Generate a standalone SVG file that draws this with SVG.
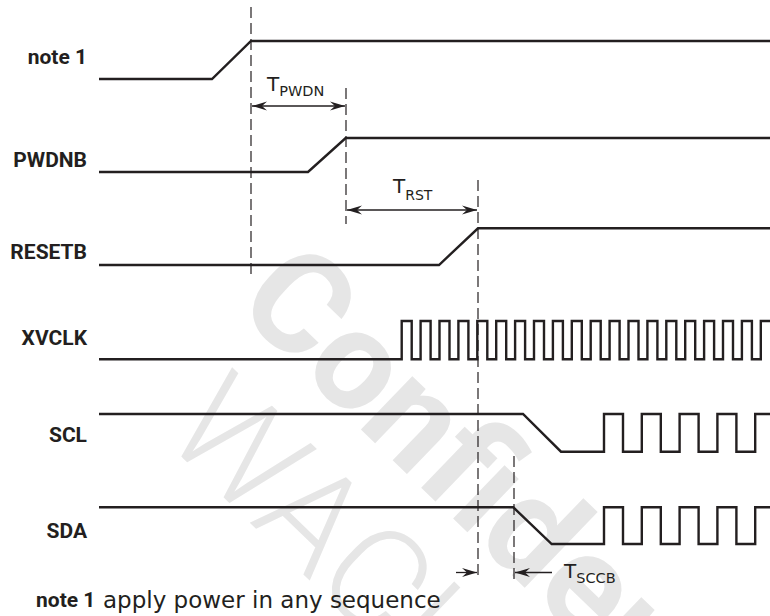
<svg xmlns="http://www.w3.org/2000/svg" width="770" height="616" viewBox="0 0 770 616">
<style>
.wm{fill:#e6e6e6;font-family:Roboto,"Liberation Sans",sans-serif;font-size:140px}
.wave{fill:none;stroke:#231f20;stroke-width:2.4;stroke-linejoin:miter}
.dash{fill:none;stroke:#231f20;stroke-width:1.2;stroke-dasharray:11 5}
.arr{fill:none;stroke:#231f20;stroke-width:1.3}
.lbl{font-family:Roboto,"Liberation Sans",sans-serif;font-weight:bold;font-size:21px;fill:#231f20;text-anchor:end}
.t{font-family:"DejaVu Sans",sans-serif;fill:#231f20}
</style>
<defs>
<marker id="ah" viewBox="-16 -6 17 12" refX="0" refY="0" markerWidth="17" markerHeight="12" markerUnits="userSpaceOnUse" orient="auto-start-reverse">
<path d="M0,0 L-15,-4.5 L-10,0 L-15,4.5 Z" fill="#231f20"/>
</marker>
</defs>
<rect width="770" height="616" fill="#ffffff"/>
<g id="watermark">
<text class="wm" font-weight="bold" transform="translate(233,306) rotate(44)">Confidential</text>
<text class="wm" font-weight="300" transform="translate(160,436) rotate(44)">WACL</text>
</g>
<g id="connectors">
<line class="dash" x1="251" y1="7" x2="251" y2="275"/>
<line class="dash" x1="346" y1="88" x2="346" y2="224"/>
<line class="dash" x1="478" y1="180" x2="478" y2="580"/>
<line class="dash" x1="514" y1="456" x2="514" y2="580"/>
<line class="arr" x1="252" y1="106" x2="345" y2="106" marker-start="url(#ah)" marker-end="url(#ah)"/>
<line class="arr" x1="347" y1="210" x2="477" y2="210" marker-start="url(#ah)" marker-end="url(#ah)"/>
<line class="arr" x1="456" y1="572.5" x2="477" y2="572.5" marker-end="url(#ah)"/>
<line class="arr" x1="552" y1="572.5" x2="515" y2="572.5" marker-end="url(#ah)"/>
</g>
<g id="note1">
<text class="lbl" x="87" y="64">note 1</text>
<path class="wave" d="M99,79 H212 L251,41 H772"/>
</g>
<g id="PWDNB">
<text class="lbl" x="87" y="167">PWDNB</text>
<path class="wave" d="M99,172 H308 L345.7,138 H772"/>
</g>
<g id="RESETB">
<text class="lbl" x="87" y="259">RESETB</text>
<path class="wave" d="M99,265 H439 L478,228.3 H772"/>
</g>
<g id="XVCLK">
<text class="lbl" x="87" y="345">XVCLK</text>
<path class="wave" d="M99,359.3 H401.7 V321 H411.7 V359.3 H420.6 V321 H430.6 V359.3 H439.5 V321 H449.5 V359.3 H458.4 V321 H468.4 V359.3 H477.3 V321 H487.3 V359.3 H496.2 V321 H506.2 V359.3 H515.1 V321 H525.1 V359.3 H534 V321 H544 V359.3 H552.9 V321 H562.9 V359.3 H571.8 V321 H581.8 V359.3 H590.7 V321 H600.7 V359.3 H609.6 V321 H619.6 V359.3 H628.5 V321 H638.5 V359.3 H647.4 V321 H657.4 V359.3 H666.3 V321 H676.3 V359.3 H685.2 V321 H695.2 V359.3 H704.1 V321 H714.1 V359.3 H723 V321 H733 V359.3 H741.9 V321 H751.9 V359.3 H760.8 V321 H772"/>
</g>
<g id="SCL">
<text class="lbl" x="87" y="442">SCL</text>
<path class="wave" d="M99,414 H523 L561,451.7 H604 V414 H623 V451.7 H641.8 V414 H660.8 V451.7 H679.6 V414 H698.6 V451.7 H717.4 V414 H736.4 V451.7 H755.2 V414 H772"/>
</g>
<g id="SDA">
<text class="lbl" x="87" y="538">SDA</text>
<path class="wave" d="M99,507.3 H513.3 L551.7,544 H604 V507.3 H623 V544 H641.8 V507.3 H660.8 V544 H679.6 V507.3 H698.6 V544 H717.4 V507.3 H736.4 V544 H755.2 V507.3 H772"/>
</g>
<g id="timing-labels">
<text class="t" x="267" y="91" font-size="20">T<tspan y="96" font-size="14.5">PWDN</tspan></text>
<text class="t" x="393" y="193" font-size="20">T<tspan y="200" font-size="14">RST</tspan></text>
<text class="t" x="564" y="578" font-size="20">T<tspan y="583" font-size="14.5">SCCB</tspan></text>
</g>
<g id="footnote">
<text x="36" y="607" font-family="Roboto, 'Liberation Sans', sans-serif" font-weight="bold" font-size="21" fill="#231f20">note 1</text>
<text class="t" x="103" y="607.5" font-size="23">apply power in any sequence</text>
</g>
</svg>
